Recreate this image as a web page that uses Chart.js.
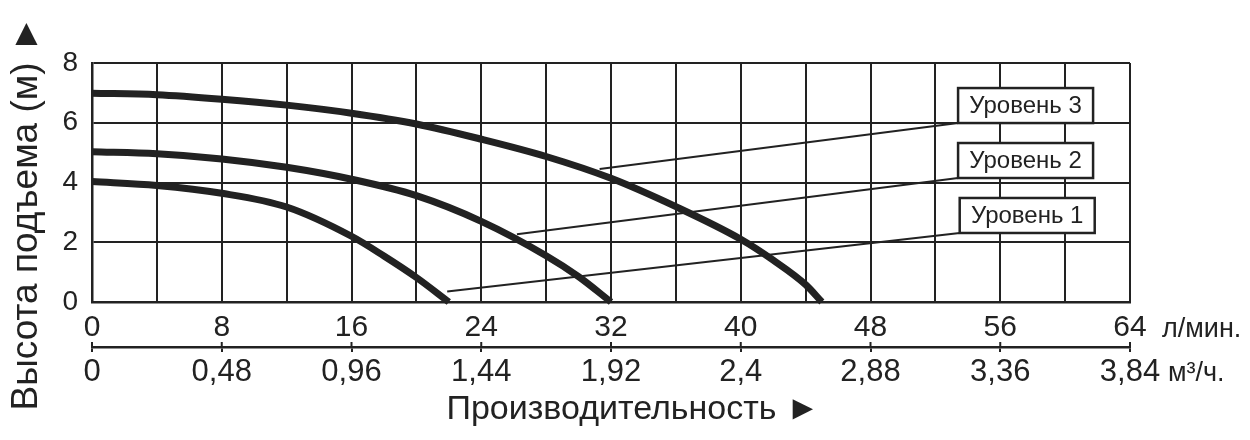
<!DOCTYPE html>
<html>
<head>
<meta charset="utf-8">
<script src="https://cdn.jsdelivr.net/npm/chart.js"></script>
<style>
  body { margin: 0; background: #fff; }
</style>
</head>
<body>
<canvas id="myChart" width="1250" height="440"></canvas>
<script>
// кривые насоса: расход (л/мин) и высота подъема (м)
const level1Flow = [0, 4, 8, 12, 16, 18, 20, 22]
const level1Head = [4.03, 3.9, 3.64, 3.18, 2.2, 1.54, 0.82, 0]
const level2Flow = [0, 4, 8, 12, 16, 20, 24, 28, 30, 32]
const level2Head = [5.03, 4.96, 4.79, 4.51, 4.11, 3.56, 2.7, 1.55, 0.85, 0]
const level3Flow = [0, 4, 8, 12, 16, 20, 24, 28, 32, 36, 40, 42, 44, 45]
const level3Head = [6.99, 6.94, 6.79, 6.59, 6.32, 5.96, 5.45, 4.87, 4.14, 3.19, 2.1, 1.4, 0.58, 0]

// подписи уровней и выноски
const levelNames = ['Уровень 1', 'Уровень 2', 'Уровень 3']
const leaderStartFlow = [21.9, 26.2, 31.3]
const leaderStartHead = [0.35, 2.27, 4.45]
const leaderEndFlow = [53.5, 53.4, 53.4]
const leaderEndHead = [2.31, 4.15, 5.99]

// вторая шкала, м3/ч
const flowM3h = ['0', '0,48', '0,96', '1,44', '1,92', '2,4', '2,88', '3,36', '3,84']

const ink = '#222'
Chart.defaults.font.family = "'Liberation Sans', Arial, sans-serif"
Chart.defaults.color = ink

function toPoints(xs, ys) {
    return xs.map((x, i) => ({x: x, y: ys[i]}))
}

const curves = [
    toPoints(level1Flow, level1Head),
    toPoints(level2Flow, level2Head),
    toPoints(level3Flow, level3Head)
]

const datasets = []
curves.forEach((pts, i) => {
    datasets.push({
        label: levelNames[i],
        data: pts,
        borderColor: ink,
        borderWidth: 7,
        pointRadius: 0,
        cubicInterpolationMode: 'monotone',
        clip: 8
    })
})
levelNames.forEach((name, i) => {
    datasets.push({
        label: name + ' leader',
        data: [
            {x: leaderStartFlow[i], y: leaderStartHead[i]},
            {x: leaderEndFlow[i], y: leaderEndHead[i]}
        ],
        borderColor: ink,
        borderWidth: 2,
        pointRadius: 0
    })
})

// рамки с подписями, единицы и заголовки осей
const decorations = {
    id: 'decorations',
    afterDatasetsDraw(chart) {
        const ctx = chart.ctx
        const xs = chart.scales.x
        const ys = chart.scales.y
        const x2 = chart.scales.x2
        const area = chart.chartArea
        ctx.save()
        levelNames.forEach((name, i) => {
            const px = xs.getPixelForValue(leaderEndFlow[i])
            const py = ys.getPixelForValue(leaderEndHead[i])
            const w = 135, h = 35
            ctx.fillStyle = '#fff'
            ctx.fillRect(px, py - h, w, h)
            ctx.strokeStyle = ink
            ctx.lineWidth = 2.5
            ctx.strokeRect(px, py - h, w, h)
            ctx.fillStyle = ink
            ctx.font = "24px 'Liberation Sans', Arial, sans-serif"
            ctx.textAlign = 'center'
            ctx.textBaseline = 'middle'
            ctx.fillText(name, px + w / 2, py - h / 2 + 1)
        })

        // засечки второй шкалы поверх линии
        ctx.strokeStyle = ink
        ctx.lineWidth = 2
        x2.ticks.forEach((t) => {
            const tx = x2.getPixelForValue(t.value)
            ctx.beginPath()
            ctx.moveTo(tx, x2.top - 5)
            ctx.lineTo(tx, x2.top)
            ctx.stroke()
        })

        ctx.fillStyle = ink
        ctx.textAlign = 'left'
        ctx.textBaseline = 'alphabetic'
        ctx.font = "27px 'Liberation Sans', Arial, sans-serif"
        ctx.fillText('л/мин.', area.right + 32, 337)
        ctx.fillText('м³/ч.', area.right + 38, 381)

        ctx.font = "34px 'Liberation Sans', Arial, sans-serif"
        ctx.textAlign = 'center'
        ctx.fillText('Производительность ►', 633, 419)

        ctx.translate(37, 213)
        ctx.rotate(-Math.PI / 2)
        ctx.font = "37px 'Liberation Sans', Arial, sans-serif"
        ctx.fillText('Высота подъема (м) ►', 0, 0)
        ctx.restore()
    }
}

const config = {
    type: 'line',
    data: {datasets},
    options: {
        responsive: false,
        animation: false,
        layout: {padding: {top: 63, right: 120, left: 0, bottom: 0}},
        plugins: {legend: {display: false}, tooltip: {enabled: false}},
        scales: {
            x: {
                type: 'linear',
                position: 'bottom',
                min: 0,
                max: 64,
                afterFit: (s) => { s.height = 45 },
                border: {color: ink, width: 2.5},
                grid: {color: ink, lineWidth: 2, drawTicks: false},
                ticks: {
                    stepSize: 4,
                    autoSkip: false,
                    maxRotation: 0,
                    padding: 8,
                    font: {size: 30},
                    callback: (v) => v % 8 === 0 ? String(v) : ''
                }
            },
            x2: {
                type: 'linear',
                position: 'bottom',
                min: 0,
                max: 64,
                afterFit: (s) => { s.height = 93 },
                border: {color: ink, width: 2.5},
                grid: {color: ink, lineWidth: 2, drawOnChartArea: false, tickLength: 5},
                ticks: {
                    stepSize: 8,
                    autoSkip: false,
                    maxRotation: 0,
                    padding: 2,
                    font: {size: 31},
                    callback: (v, i) => flowM3h[i]
                }
            },
            y: {
                min: 0,
                max: 8,
                afterFit: (s) => { s.width = 92 },
                border: {color: ink, width: 2.5},
                grid: {color: ink, lineWidth: 2, drawTicks: false},
                ticks: {stepSize: 2, padding: 14, font: {size: 28}}
            }
        }
    },
    plugins: [decorations]
}

new Chart(document.getElementById('myChart'), config)
</script>
</body>
</html>
